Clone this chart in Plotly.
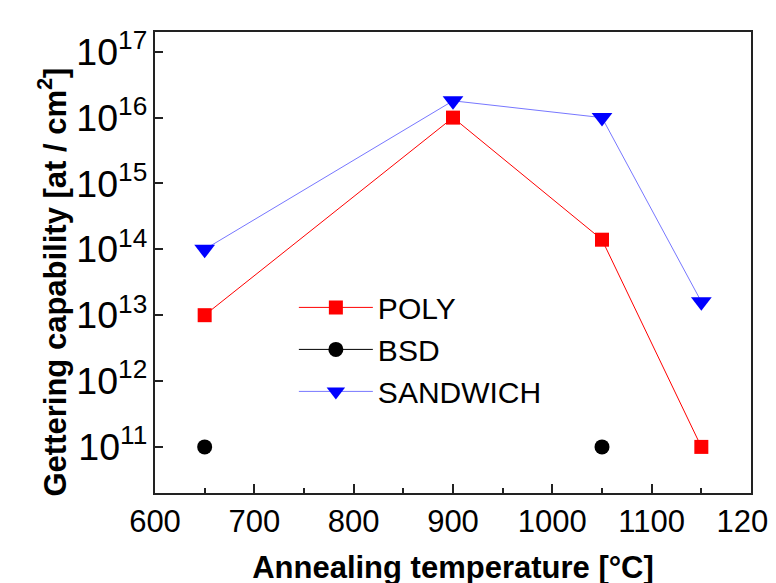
import plotly.graph_objects as go

# Data
poly_x = [650, 900, 1050, 1150]
poly_y = [1e13, 1e16, 1.4e14, 1e11]

bsd_x = [650, 900, 1050]
bsd_y = [1e11, None, 1e11]

sand_x = [650, 900, 1050, 1150]
sand_y = [1e14, 1.8e16, 1e16, 1.6e13]

x_ticks = [600, 700, 800, 900, 1000, 1100, 1200]

FONT = "Arial, Liberation Sans, sans-serif"

fig = go.Figure()
fig.add_trace(go.Scatter(
    x=poly_x, y=poly_y, name="POLY", mode="lines+markers",
    line=dict(color="#ff0000", width=1),
    marker=dict(symbol="square", size=14, color="#ff0000"),
))
fig.add_trace(go.Scatter(
    x=bsd_x, y=bsd_y, name="BSD", mode="lines+markers", connectgaps=False,
    line=dict(color="#000000", width=1),
    marker=dict(symbol="circle", size=15, color="#000000"),
))
fig.add_trace(go.Scatter(
    x=sand_x, y=sand_y, name="SANDWICH", mode="lines+markers",
    line=dict(color="#7777ff", width=1),
    marker=dict(symbol="triangle-down", size=18, color="#0000ff"),
))

fig.update_layout(
    width=776, height=583,
    margin=dict(l=147, r=33, t=24, b=98),
    plot_bgcolor="white", paper_bgcolor="white",
    font=dict(family=FONT, size=30, color="black"),
    showlegend=True,
    legend=dict(
        x=0.233, y=0.459, xanchor="left", yanchor="top",
        bgcolor="rgba(0,0,0,0)", font=dict(size=30, family=FONT),
        itemwidth=74, tracegroupgap=0,
    ),
    xaxis=dict(
        range=[600, 1200], tickvals=x_ticks, automargin=False,
        ticklabeloverflow="allow",
        ticks="inside", ticklen=9, tickwidth=1.5, tickcolor="#222",
        showline=True, linecolor="#222", linewidth=1.5, mirror=True,
        showgrid=False, zeroline=False,
        minor=dict(ticks="inside", ticklen=5, tickwidth=1.5, tickcolor="#222", dtick=50, tick0=600, showgrid=False),
        tickfont=dict(size=31),
        title=dict(text="<b>Annealing temperature [°C]</b>", font=dict(size=31), standoff=18),
    ),
    yaxis=dict(
        type="log", range=[10.3, 17.3], dtick=1, exponentformat="power", automargin=False,
        ticks="inside", ticklen=8, tickwidth=1.5, tickcolor="#222",
        showline=True, linecolor="#222", linewidth=1.5, mirror=True,
        showgrid=False, zeroline=False,
        tickfont=dict(size=30),
    ),
    annotations=[dict(
        text="<b>Gettering capability [at / cm<sup>2</sup>]</b>",
        xref="paper", yref="paper", x=-0.172, y=0.4577,
        xanchor="center", yanchor="middle", textangle=-90,
        showarrow=False, font=dict(size=31, family=FONT, color="black"),
    )],
)

fig.write_html("out.html")
